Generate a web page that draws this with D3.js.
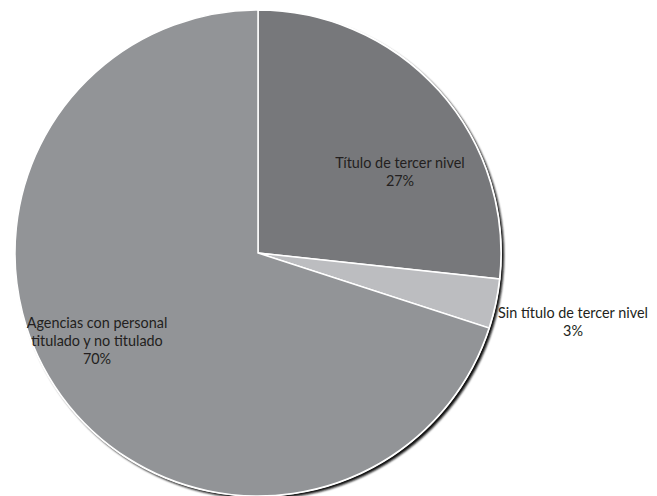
<!DOCTYPE html>
<html><head><meta charset="utf-8">
<script src="https://cdn.jsdelivr.net/npm/d3@7"></script>
<style>html,body{margin:0;padding:0;background:#fff;}svg{display:block;}</style>
</head><body>
<script>
const categories = ["Título de tercer nivel", "Sin título de tercer nivel", "Agencias con personal titulado y no titulado"];
const values = [26.7, 3.3, 70];
const labelLines = [["Título de tercer nivel"], ["Sin título de tercer nivel"], ["Agencias con personal", "titulado y no titulado"]];
const colors = ["#77787b", "#bcbdc0", "#929497"];

const W = 657, H = 496;
const cx = 258, cy = 253, R = 243;
const svg = d3.select("body").append("svg").attr("width", W).attr("height", H);
const defs = svg.append("defs");
const f = defs.append("filter").attr("id", "sh").attr("x", "-10%").attr("y", "-10%").attr("width", "120%").attr("height", "120%");
f.append("feGaussianBlur").attr("stdDeviation", 0.8);

const g = svg.append("g").attr("transform", `translate(${cx},${cy})`);
g.append("circle").attr("cx", 2.5).attr("cy", 2.5).attr("r", R + 0.5).attr("fill", "#111").attr("filter", "url(#sh)");
g.append("circle").attr("r", R + 1).attr("fill", "#fff");

const pie = d3.pie().sort(null).value(d => d)(values);
const arc = d3.arc().innerRadius(0).outerRadius(R);
g.selectAll("path.s").data(pie).join("path").attr("class", "s")
  .attr("d", arc).attr("fill", (d, i) => colors[i])
  .attr("stroke", "#fff").attr("stroke-width", 1.5).attr("stroke-linejoin", "miter");

const font = "Lato, 'Open Sans', sans-serif";
const labelPos = [[400, 163], [573, 313], [97, 323]];
const lh = 18;
pie.forEach((d, i) => {
  const t = svg.append("text").attr("text-anchor", "middle")
    .attr("font-family", font).attr("font-size", 14.4).attr("fill", "#231f20");
  const lines = labelLines[i].concat([Math.round(values[i] / d3.sum(values) * 100) + "%"]);
  lines.forEach((ln, j) => {
    t.append("tspan").attr("x", labelPos[i][0]).attr("y", labelPos[i][1] + j * lh + 5).text(ln);
  });
});
</script>
</body></html>
